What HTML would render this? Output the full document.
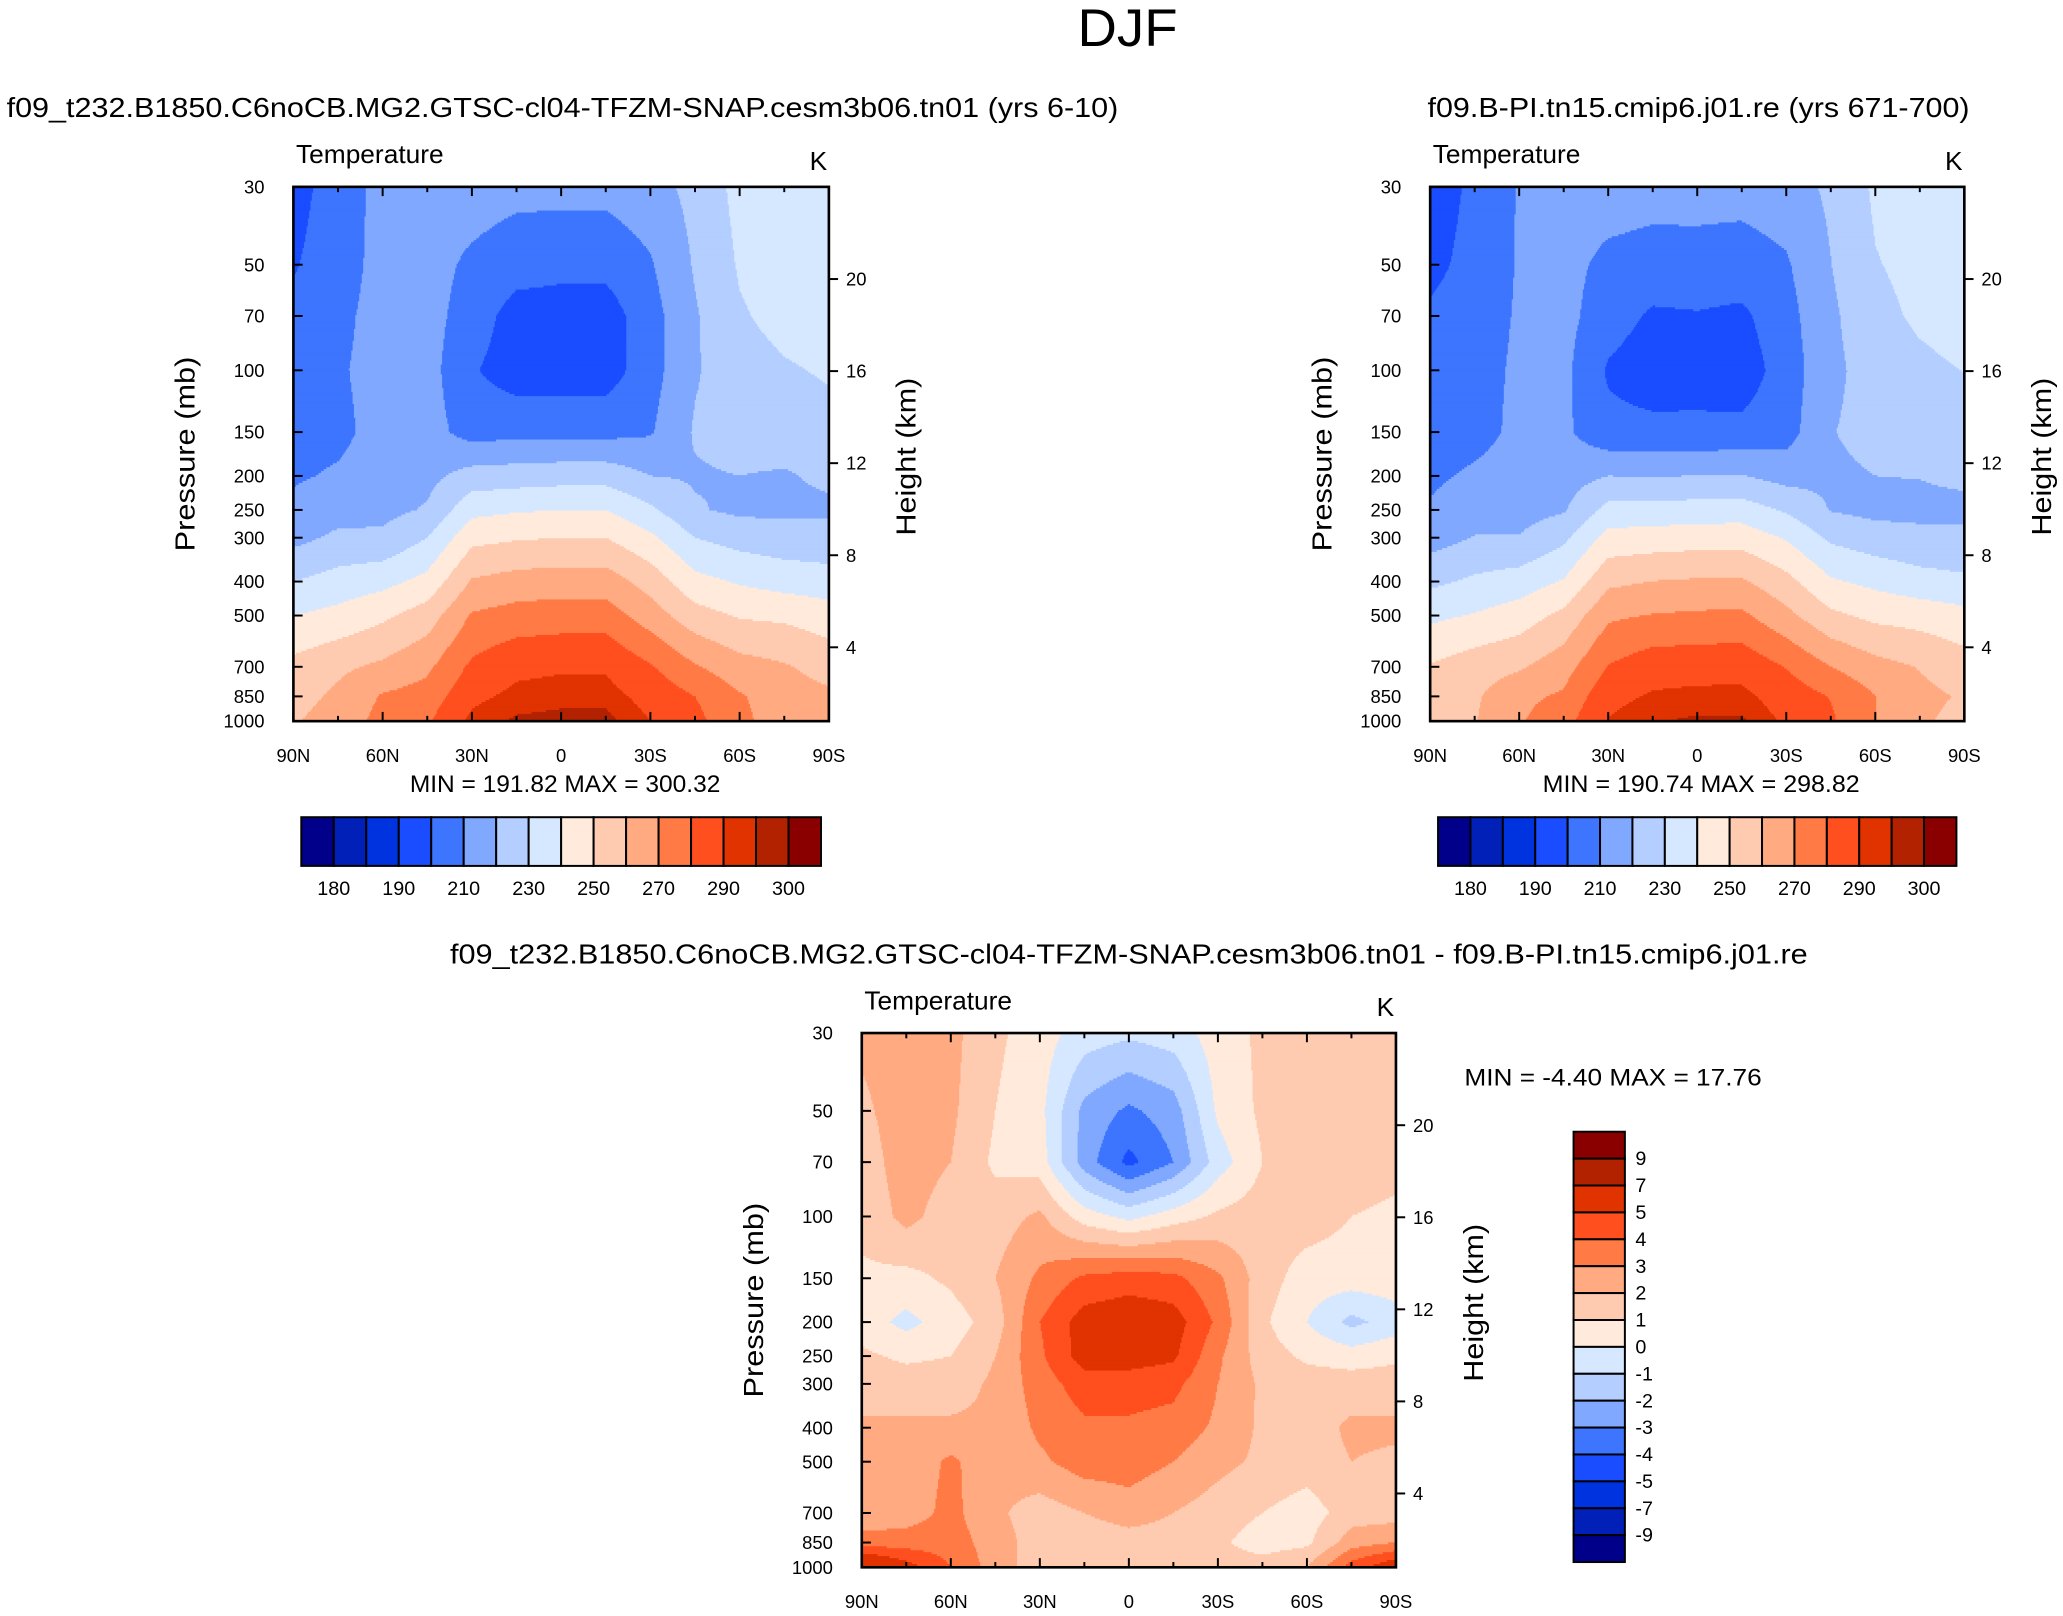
<!DOCTYPE html>
<html><head><meta charset="utf-8">
<style>
html,body{margin:0;padding:0;background:#fff;}
svg{display:block;}
text{font-family:"Liberation Sans",sans-serif;fill:#000;}
</style></head>
<body>
<svg id="fig" xmlns="http://www.w3.org/2000/svg" width="2063" height="1616" viewBox="0 0 1568 1228" preserveAspectRatio="none">
<text x="857" y="35" font-size="40" text-anchor="middle" textLength="76" lengthAdjust="spacingAndGlyphs">DJF</text>
<text x="5" y="89" font-size="21" textLength="845" lengthAdjust="spacingAndGlyphs">f09_t232.B1850.C6noCB.MG2.GTSC-cl04-TFZM-SNAP.cesm3b06.tn01 (yrs 6-10)</text>
<text x="1085" y="89" font-size="21" textLength="412" lengthAdjust="spacingAndGlyphs">f09.B-PI.tn15.cmip6.j01.re (yrs 671-700)</text>
<text x="342" y="732" font-size="21" textLength="1032" lengthAdjust="spacingAndGlyphs">f09_t232.B1850.C6noCB.MG2.GTSC-cl04-TFZM-SNAP.cesm3b06.tn01 - f09.B-PI.tn15.cmip6.j01.re</text>
<g id="panels"></g>
<g id="bars"></g>
</svg>
<script>
const NS="http://www.w3.org/2000/svg";
const lats=[90,75,60,45,30,15,0,-15,-30,-45,-60,-75,-90];
const pres=[30,50,70,100,150,200,250,300,400,500,700,850,1000];
const colors=["#00008a","#0020b8","#0033e0","#1a4dff","#3d75ff","#80a8ff","#b3ceff","#d6e8ff","#ffeadb","#ffcbb0","#ffaa80","#ff7a45","#ff4f1f","#e03300","#b32200","#8a0000"];
const tLevels=[180,185,190,200,210,220,230,240,250,260,270,280,290,295,300];
const dLevels=[-9,-7,-5,-4,-3,-2,-1,0,1,2,3,4,5,7,9];
const tLabels=["180","190","210","230","250","270","290","300"];
const dLabels=["9","7","5","4","3","2","1","0","-1","-2","-3","-4","-5","-7","-9"];
const latLabels=["90N","60N","30N","0","30S","60S","90S"];
const latTicks=[90,60,30,0,-30,-60,-90];
const presTicks=[30,50,70,100,150,200,250,300,400,500,700,850,1000];
const kmTicks=[4,8,12,16,20];
const T1=[
[196,205,213,215,215,213,213,213,216,223,233,236,237],
[199,206,213,214,208,204,203,203,209,221,231,234,236],
[203,208,213,214,205,196,195,195,206,219,229,233,235],
[205,209,213,214,201,195,195,195,206,219,226,229,231],
[207,208,213,214,206,207,207,207,209,221,224,225,227],
[209,211,214,217,224,225,226,226,220,219,220,219,222],
[212,216,217,221,237,239,240,240,232,221,218,218,218],
[217,222,222,230,247,249,250,250,242,230,226,224,224],
[230,234,237,243,261,264,265,265,256,243,239,236,234],
[240,243,248,255,271,274,275,275,265,254,249,248,245],
[253,258,262,268,282,288,289,289,281,271,264,261,256],
[256,262,271,274,288,292,293,293,287,280,271,265,262],
[259,265,273,279,292,296,297,297,290,283,272,266,263]];
const T2=[
[193.8,202.5,210.7,213.8,214.5,213.5,213.8,213.5,215.5,221.8,231.5,234.5,235.5],
[197.2,203.5,210.8,213,207.7,206.3,206.2,205.5,208.8,219.8,229.5,232.5,234.7],
[201.5,205.5,211,213.2,204.5,198.5,199.3,198,206.5,218,227.5,231.5,233.7],
[203.7,206.7,211.5,212.5,198.8,194.5,195.3,194.5,204.8,217.5,224.5,228,230.2],
[206.2,207.3,211.8,212,202.8,202.8,202.5,202.7,205.8,219.5,223.5,224.5,226.4],
[208.5,211.3,213.5,215.5,220,219.5,220.2,220.5,216.2,217.8,220,220.3,222.2],
[210.8,215.2,216,219,233.2,233.5,234.5,234.8,228.8,219.5,217.2,217.5,217.2],
[215.5,220.5,220.5,227.8,243.5,244.5,245.5,245.7,239,228.2,224.5,222.5,222.5],
[227.8,231.8,234.8,240.8,257.8,260.2,261.2,261.4,253.2,241.2,237.5,233.8,231.8],
[237.8,240.7,244.8,252.7,268.2,270.5,271.5,272,262.7,252.2,247.5,246,243.2],
[250.8,255.5,258.7,265.8,280.5,286,286.5,287,279.5,270,263.5,259.5,254.5],
[252.5,258.5,267.5,271.5,287.5,291,292,292,286,279.5,270.2,262.5,259],
[252,259.5,269,276.5,290.5,294.5,296,296,288.5,281.5,270,261.5,257]];
const D=[
[2.2,2.5,2.3,1.2,0.5,-0.5,-0.8,-0.5,0.5,1.2,1.5,1.5,1.5],
[1.8,2.5,2.2,1.0,0.3,-2.3,-3.2,-2.5,0.2,1.2,1.5,1.5,1.3],
[1.5,2.5,2,0.8,0.5,-2.5,-4.3,-3,-0.5,1,1.5,1.5,1.3],
[1.3,2.3,1.5,1.5,2.2,0.5,-0.3,0.5,1.2,1.5,1.5,1,0.8],
[0.8,0.7,1.2,2,3.2,4.2,4.5,4.3,3.2,1.5,0.5,0.5,0.6],
[0.5,-0.3,0.5,1.5,4,5.5,5.8,5.5,3.8,1.2,0,-1.3,-0.5],
[1.2,0.8,1,2,3.8,5.5,5.5,5.2,3.2,1.5,0.8,0.5,0.8],
[1.5,1.5,1.5,2.2,3.5,4.5,4.5,4.3,3,1.8,1.5,1.5,1.5],
[2.2,2.2,2.2,2.2,3.2,3.8,3.8,3.6,2.8,1.8,1.5,2.2,2.2],
[2.2,2.3,3.2,2.3,2.8,3.5,3.5,3,2.3,1.8,1.5,2,1.8],
[2.2,2.5,3.3,2.2,1.5,2,2.5,2,1.5,1,0.5,1.5,1.5],
[3.5,3.5,3.5,2.5,1.5,1.3,1.5,1.5,1.2,0.5,0.8,2.5,3],
[7,5.5,4,2.5,1.5,1.5,1.5,1.5,1.5,1.5,2,4.5,6]];

function el(tag,attrs,parent){const e=document.createElementNS(NS,tag);for(const k in attrs)e.setAttribute(k,attrs[k]);parent.appendChild(e);return e;}
function txt(s,x,y,size,anchor,parent,name){const t=el("text",{x:x,y:y,"font-size":size,"text-anchor":anchor},parent);t.textContent=s;


return t;}
function colorIdx(v,lv){let i=0;while(i<lv.length&&v>=lv[i])i++;return i;}

function drawPanel(x0,y0,W,H,grid,lv,name,minmax,mmLen){
  const g=el("g",{},document.getElementById("panels"));
  
  
  const xOf=lat=>x0+(90-lat)/180*W;
  const lp0=Math.log(30),lp1=Math.log(1000);
  const yOf=p=>y0+(Math.log(p)-lp0)/(lp1-lp0)*H;
  const fg=el("g",{},g);
  
  
  const step=1.5, dx=1;
  const py=pres.map(yOf);
  for(let y=y0;y<y0+H;y+=step){
    const yc=y+step/2;
    let j=0;while(j<py.length-2&&yc>py[j+1])j++;
    const fy=Math.min(1,Math.max(0,(yc-py[j])/(py[j+1]-py[j])));
    let runStart=x0,runC=-1;
    for(let x=x0;x<=x0+W;x+=dx){
      let c=-2;
      if(x<x0+W){
        const fx=(x+dx/2-x0)/W*(lats.length-1);
        const i=Math.min(lats.length-2,Math.floor(fx)),tx=fx-i;
        const v=(grid[j][i]*(1-tx)+grid[j][i+1]*tx)*(1-fy)+(grid[j+1][i]*(1-tx)+grid[j+1][i+1]*tx)*fy;
        c=colorIdx(v,lv);
      }
      if(c!==runC){
        if(runC>=0){const r=el("rect",{x:runStart,y:y,width:x-runStart+0.4,height:step+0.4,fill:colors[runC]},fg);
          
          }
        runStart=x;runC=c;
      }
    }
  }
  const fr=el("rect",{x:x0,y:y0,width:W,height:H,fill:"none",stroke:"#000","stroke-width":2},g);
  
  
  const tk=el("g",{stroke:"#000","stroke-width":1.5},g);
  
  
  latTicks.forEach((l,k)=>{const x=xOf(l);
    el("line",{x1:x,y1:y0+H,x2:x,y2:y0+H-7},tk);el("line",{x1:x,y1:y0,x2:x,y2:y0+7},tk);
    txt(latLabels[k],x,y0+H+31,14,"middle",g,"x-tick-label");});
  for(let l=75;l>-90;l-=15){if(l%30===0)continue;const x=xOf(l);
    el("line",{x1:x,y1:y0+H,x2:x,y2:y0+H-4},tk);el("line",{x1:x,y1:y0,x2:x,y2:y0+4},tk);}
  presTicks.forEach(p=>{const y=yOf(p);el("line",{x1:x0,y1:y,x2:x0+7,y2:y},tk);
    txt(String(p),x0-22,y+5,14,"end",g,"y-tick-label");});
  kmTicks.forEach(k=>{const p=1127*Math.exp(-k/6.62);const y=yOf(p);
    el("line",{x1:x0+W,y1:y,x2:x0+W+7,y2:y},tk);
    txt(String(k),x0+W+13,y+5,14,"start",g,"right-tick-label");});
  txt("Temperature",x0+2,y0-18,20,"start",g,"variable-label");
  txt("K",x0+W-8,y0-13,20,"middle",g,"units-label");
  const yl=txt("Pressure (mb)",0,0,21,"middle",g,"y-axis-title");yl.setAttribute("transform",`translate(${x0-75},${y0+H/2}) rotate(-90)`);
  yl.setAttribute("textLength","148");yl.setAttribute("lengthAdjust","spacingAndGlyphs");
  const yr=txt("Height (km)",0,0,21,"middle",g,"right-axis-title");yr.setAttribute("transform",`translate(${x0+W+66},${y0+H/2+2}) rotate(-90)`);
  yr.setAttribute("textLength","120");yr.setAttribute("lengthAdjust","spacingAndGlyphs");
  if(minmax){const m=txt(minmax,x0+W/2+3,y0+H+54,18,"middle",g,"min-max-label");
    m.setAttribute("textLength",mmLen);m.setAttribute("lengthAdjust","spacingAndGlyphs");}
}
drawPanel(223,142,407,406,T1,tLevels,"panel-model","MIN = 191.82   MAX = 300.32","236");
drawPanel(1087,142,406,406,T2,tLevels,"panel-control","MIN = 190.74   MAX = 298.82","241");
drawPanel(655,785,406,406,D,dLevels,"panel-difference",null);
const pg=document.getElementById("panels");
const dm=txt("MIN =  -4.40   MAX =  17.76",1226,825,18,"middle",pg,"diff-min-max-label");
dm.setAttribute("textLength","226");dm.setAttribute("lengthAdjust","spacingAndGlyphs");

function hbar(x0,y0,W,H,name){
  const g=el("g",{},document.getElementById("bars"));
  
  
  const w=W/colors.length;
  colors.forEach((c,i)=>{const r=el("rect",{x:x0+i*w,y:y0,width:w,height:H,fill:c,stroke:"#000","stroke-width":1.5},g);
    
    });
  tLabels.forEach((s,k)=>txt(s,x0+(1+2*k)*w,y0+H+22,15,"middle",g,"colorbar-label"));
}
hbar(229,621,395,37,"colorbar-model");
hbar(1093,621,394,37,"colorbar-control");
(function(){
  const x0=1196,y0=860,W=39,H=327;
  const g=el("g",{},document.getElementById("bars"));
  
  
  const h=H/colors.length;
  colors.slice().reverse().forEach((c,i)=>{const r=el("rect",{x:x0,y:y0+i*h,width:W,height:h,fill:c,stroke:"#000","stroke-width":1.5},g);
    
    });
  dLabels.forEach((s,k)=>txt(s,x0+W+8,y0+(k+1)*h+5,15,"start",g,"colorbar-label"));
})();
</script>
</body></html>
